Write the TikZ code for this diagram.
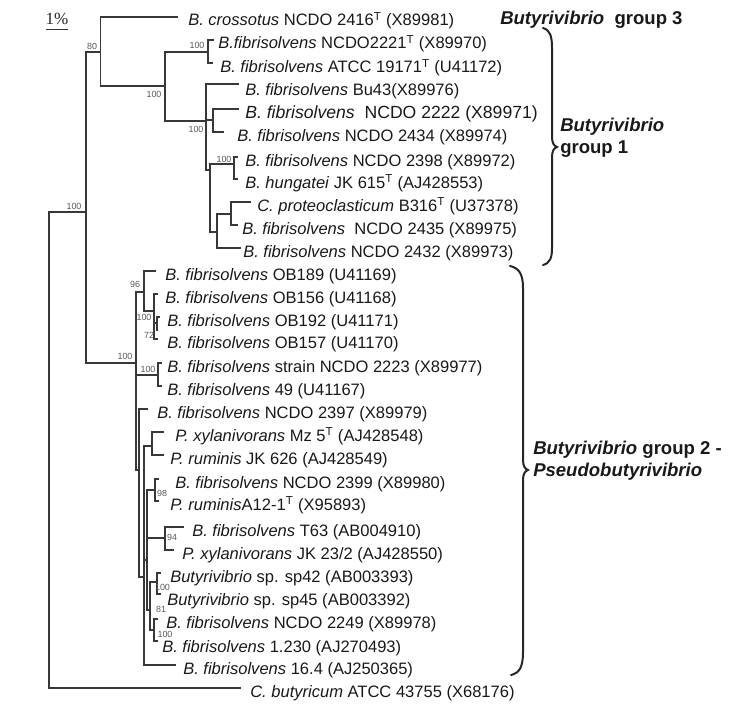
\documentclass[tikz,border=0pt]{standalone}
\usepackage{fontspec}
\setmainfont{Liberation Sans}
\newfontfamily\serifface{Liberation Serif}
\newcommand\Bfib{\textit{B. fibrisolvens}}
\newcommand\supT{\textsuperscript{T}}
\begin{document}
\begin{tikzpicture}[x=0.75pt,y=-0.75pt,
  br/.style={draw=black!78, line width=1.1pt, line cap=rect},
  leaf/.style={anchor=base west, inner sep=0pt, text=black!90, font=\fontsize{12.4}{14}\selectfont},
  bs/.style={inner sep=0pt, text=black!65, font=\fontsize{6.7}{7.5}\selectfont},
  grp/.style={anchor=base west, inner sep=0pt, text=black!90, font=\fontsize{13.9}{16}\selectfont\bfseries},
  brc/.style={draw=black!85, line width=1.5pt, line cap=round}]
\useasboundingbox (0,0) rectangle (745,710);

% internal nodes (x, entry y)
\coordinate (R) at (49,450);
\coordinate (B) at (86,212);
\coordinate (C) at (100.7,52);
\coordinate (D) at (165,86);
\coordinate (P1) at (208,52);
\coordinate (E) at (206,121);
\coordinate (F) at (213,120);
\coordinate (G) at (210,170);
\coordinate (H) at (234,164);
\coordinate (I) at (217,232);
\coordinate (J) at (231,214);
\coordinate (G2) at (136,363);
\coordinate (K) at (144,292);
\coordinate (L) at (154,311);
\coordinate (M) at (157,323);
\coordinate (N) at (158,375);
\coordinate (W1) at (139,470);
\coordinate (Q) at (152,446);
\coordinate (W2) at (144,577);
\coordinate (W3) at (147,560);
\coordinate (S) at (155,490);
\coordinate (T) at (165,538);
\coordinate (W4) at (150,610);
\coordinate (U) at (157,582);
\coordinate (V) at (154,630);

% leaf branch ends
\coordinate (e1) at (177,17);
\coordinate (e2) at (213,40);
\coordinate (e3) at (212,63);
\coordinate (e4) at (238,84);
\coordinate (e5) at (238,109);
\coordinate (e6) at (223,132);
\coordinate (e7) at (237,157);
\coordinate (e8) at (237,179);
\coordinate (e9) at (250,202);
\coordinate (e10) at (237,225);
\coordinate (e11) at (240,248);
\coordinate (e12) at (155,271);
\coordinate (e13) at (157,294);
\coordinate (e14) at (159,317);
\coordinate (e14b) at (157,330);
\coordinate (e15) at (157,339);
\coordinate (e16) at (161,363);
\coordinate (e17) at (161,386);
\coordinate (e18) at (147,409);
\coordinate (e19) at (163,432);
\coordinate (e20) at (163,455);
\coordinate (e21) at (158,479);
\coordinate (e22) at (158,501);
\coordinate (e23) at (183,527);
\coordinate (e24) at (173,550);
\coordinate (e25) at (160,573);
\coordinate (e26) at (160,594);
\coordinate (e27) at (157,619);
\coordinate (e28) at (157,641);
\coordinate (e29) at (175,665);
\coordinate (e30) at (240,688);

% verticals
\foreach \n/\a/\b in {R/B/e30, B/C/G2, C/e1/D, D/P1/E, P1/e2/e3, E/e4/G, F/e5/e6,
  G/H/I, H/e7/e8, I/J/e11, J/e9/e10, G2/K/W1, K/e12/L, L/e13/e15, M/e14/e14b,
  N/e16/e17, W1/e18/W2, Q/e19/e20, W2/Q/e29, W3/S/W4, S/e21/e22, T/e23/e24,
  W4/U/V, U/e25/e26, V/e27/e28}
  \draw[br] (\n |- \a) -- (\n |- \b);

% horizontals
\foreach \p/\c in {R/B, R/e30, B/C, B/G2, C/e1, C/D, D/P1, D/E, P1/e2, P1/e3,
  E/e4, E/F, E/G, F/e5, F/e6, G/H, G/I, H/e7, H/e8, I/J, I/e11, J/e9, J/e10,
  G2/K, G2/N, G2/W1, K/e12, K/L, L/e13, L/M, L/e15, M/e14, N/e16, N/e17,
  W1/e18, W1/W2, W2/Q, W2/W3, W2/e29, Q/e19, Q/e20, W3/S, W3/T, W3/W4,
  S/e21, S/e22, T/e23, T/e24, W4/U, W4/V, U/e25, U/e26, V/e27, V/e28}
  \draw[br] (\p |- \c) -- (\c);

% bootstrap values
\node[bs] (b1) at (74,206) {100};
\node[bs] (b2) at (92,46) {80};
\node[bs] (b3) at (154,94) {100};
\node[bs] (b4) at (197,45) {100};
\node[bs] (b5) at (196,129.5) {100};
\node[bs] (b6) at (224,159) {100};
\node[bs] (b7) at (125,356) {100};
\node[bs] (b8) at (135,284) {96};
\node[bs] (b9) at (144,317) {100};
\node[bs] (b10) at (149,335) {72};
\node[bs] (b11) at (148,369) {100};
\node[bs] (b12) at (162,493) {98};
\node[bs] (b13) at (172,537) {94};
\node[bs] (b14) at (162.5,587.5) {100};
\node[bs] (b15) at (161,609) {81};
\node[bs] (b16) at (165,634) {100};

% leaves
\node[leaf] (t1) at (188,26) {\textit{B. crossotus} NCDO 2416\supT{} (X89981)};
\node[leaf] (t2) at (218,49) {\textit{B.fibrisolvens} NCDO2221\supT{} (X89970)};
\node[leaf] (t3) at (220,73) {\Bfib{} ATCC 19171\supT{} (U41172)};
\node[leaf] (t4) at (245,95) {\Bfib{} Bu43(X89976)};
\node[leaf,font=\fontsize{13.2}{15}\selectfont] (t5) at (245,118) {\Bfib{}\ \ NCDO 2222 (X89971)};
\node[leaf] (t6) at (237,141) {\Bfib{} NCDO 2434 (X89974)};
\node[leaf] (t7) at (245,166) {\Bfib{} NCDO 2398 (X89972)};
\node[leaf] (t8) at (245,188) {\textit{B. hungatei} JK 615\supT{} (AJ428553)};
\node[leaf] (t9) at (257,211) {\textit{C. proteoclasticum} B316\supT{} (U37378)};
\node[leaf] (t10) at (242,234) {\Bfib{}\ \ NCDO 2435 (X89975)};
\node[leaf] (t11) at (243,257) {\Bfib{} NCDO 2432 (X89973)};
\node[leaf] (t12) at (165,280) {\Bfib{} OB189 (U41169)};
\node[leaf] (t13) at (165,303) {\Bfib{} OB156 (U41168)};
\node[leaf] (t14) at (167,326) {\Bfib{} OB192 (U41171)};
\node[leaf] (t15) at (167,348) {\Bfib{} OB157 (U41170)};
\node[leaf] (t16) at (167,372) {\Bfib{} strain NCDO 2223 (X89977)};
\node[leaf] (t17) at (167,395) {\Bfib{} 49 (U41167)};
\node[leaf] (t18) at (157,418) {\Bfib{} NCDO 2397 (X89979)};
\node[leaf] (t19) at (175,441) {\textit{P. xylanivorans} Mz 5\supT{} (AJ428548)};
\node[leaf] (t20) at (170,464) {\textit{P. ruminis} JK 626 (AJ428549)};
\node[leaf] (t21) at (175,488) {\Bfib{} NCDO 2399 (X89980)};
\node[leaf] (t22) at (170,510) {\textit{P. ruminis}A12-1\supT{} (X95893)};
\node[leaf] (t23) at (192,536) {\Bfib{} T63 (AB004910)};
\node[leaf] (t24) at (182,559) {\textit{P. xylanivorans} JK 23/2 (AJ428550)};
\node[leaf] (t25) at (170,582) {\textit{Butyrivibrio} sp. sp42 (AB003393)};
\node[leaf] (t26) at (167,605) {\textit{Butyrivibrio} sp. sp45 (AB003392)};
\node[leaf] (t27) at (166,628) {\Bfib{} NCDO 2249 (X89978)};
\node[leaf] (t28) at (162,652) {\Bfib{} 1.230 (AJ270493)};
\node[leaf] (t29) at (183,674) {\Bfib{} 16.4 (AJ250365)};
\node[leaf] (t30) at (250,697) {\textit{C. butyricum} ATCC 43755 (X68176)};

% scale bar
\node[inner sep=0pt, anchor=base, text=black!85, font=\serifface\fontsize{12.8}{14}\selectfont] (sc) at (57,25) {1\%};
\coordinate (sb1) at (46,29.5);
\coordinate (sb2) at (68,29.5);
\draw[draw=black!80, line width=1pt] (sb1) -- (sb2);

% group labels
\node[grp] (g3) at (500,25) {\textit{Butyrivibrio}\ \ group 3};
\node[grp] (g1a) at (560,131) {\textit{Butyrivibrio}};
\node[grp] (g1b) at (560,153) {group 1};
\node[grp] (g2a) at (533,454) {\textit{Butyrivibrio} group 2 -};
\node[grp] (g2b) at (533,476) {\textit{Pseudobutyrivibrio}};

% braces
\draw[brc] (543,28) .. controls (550,30) and (552,36) .. (552,48) -- (552,137)
  .. controls (552,143) and (554,146) .. (557,147)
  .. controls (554,148) and (552,151) .. (552,157) -- (552,248)
  .. controls (552,258) and (550,263) .. (543,265);
\draw[brc] (510,266) .. controls (519,268) and (523,274) .. (523,288) -- (523,460)
  .. controls (523,466) and (525,469) .. (528,470)
  .. controls (525,471) and (523,474) .. (523,480) -- (523,652)
  .. controls (523,668) and (519,673) .. (511,675);
\end{tikzpicture}
\end{document}
